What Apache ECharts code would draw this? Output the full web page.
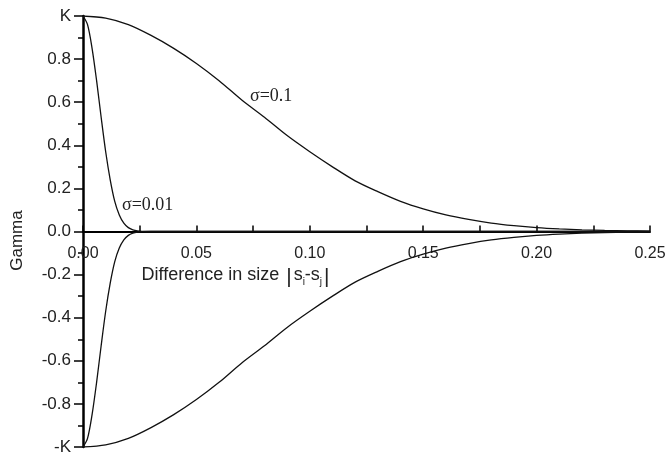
<!DOCTYPE html>
<html>
<head>
<meta charset="utf-8">
<script src="https://cdn.jsdelivr.net/npm/echarts@6/dist/echarts.min.js"></script>
<style>
  html, body { margin: 0; padding: 0; background: #fff; }
  #main { width: 667px; height: 453px; }
</style>
</head>
<body>
<div id="main"></div>
<script>
// x positions (difference in size) and curve values
var xWide = [0, 0.01, 0.02, 0.03, 0.04, 0.05, 0.06, 0.07, 0.08, 0.09, 0.10, 0.11, 0.12, 0.13,
  0.14, 0.15, 0.16, 0.17, 0.18, 0.19, 0.20, 0.21, 0.22, 0.23, 0.24, 0.25];
var gammaWide = [1, 0.99, 0.96, 0.91, 0.85, 0.78, 0.70, 0.61, 0.53, 0.445, 0.37, 0.30, 0.235,
  0.185, 0.14, 0.105, 0.077, 0.056, 0.039, 0.027, 0.018, 0.012, 0.008, 0.005, 0.003, 0.002];

var xNarrow = [0, 0.002, 0.004, 0.006, 0.008, 0.010, 0.012, 0.014, 0.016, 0.018, 0.020,
  0.022, 0.024, 0.026, 0.030, 0.25];
var gammaNarrow = [1, 0.96, 0.85, 0.70, 0.53, 0.37, 0.24, 0.14, 0.077, 0.039, 0.018,
  0.008, 0.003, 0.001, 0, 0];

var yTickNames = { '1': 'K', '-1': '-K' };

function pairs(xs, ys, sign) {
  return xs.map(function (x, i) { return [x, sign * ys[i]]; });
}

var chart = echarts.init(document.getElementById('main'));

function curve(data) {
  return {
    type: 'line',
    data: data,
    smooth: 0.3,
    symbol: 'none',
    silent: true,
    lineStyle: { color: '#111', width: 1.3 }
  };
}

var gridTop = 16, gridBottom = 6;
// x axis sits on y = 0, i.e. halfway up the grid (y runs -1..1)
var xShift = -(453 - gridTop - gridBottom) / 2;

var option = {
  backgroundColor: '#fff',
  animation: false,
  grid: { left: 83, right: 17, top: gridTop, bottom: gridBottom, outerBoundsMode: 'none', containLabel: false },
  xAxis: {
    type: 'value',
    min: 0,
    max: 0.25,
    interval: 0.05,
    offset: xShift,
    name: 'Difference in size {bar||}{s|s}{sub|i}{s|-s}{sub|j}{bar||}',
    nameLocation: 'middle',
    nameGap: 29,
    nameTextStyle: {
      color: '#222',
      fontSize: 18,
      fontFamily: 'Liberation Sans',
      padding: [0, 260, 0, 0],
      rich: {
        s: { fontSize: 18, color: '#222', fontFamily: 'Liberation Sans' },
        sub: { fontSize: 10, verticalAlign: 'bottom', padding: [10, 0, 0, 0], color: '#222' },
        bar: { fontSize: 21, color: '#222', fontFamily: 'Liberation Sans', padding: [3, 2, 0, 2] }
      }
    },
    axisLine: { onZero: false, lineStyle: { color: '#000', width: 2 } },
    axisTick: { inside: true, length: 6, lineStyle: { color: '#000', width: 1.5 } },
    minorTick: { show: true, splitNumber: 2, length: 6, lineStyle: { color: '#000', width: 1.5 } },
    axisLabel: {
      color: '#222',
      fontSize: 16,
      fontFamily: 'Liberation Sans',
      margin: 14,
      formatter: function (v) { return v.toFixed(2); }
    },
    splitLine: { show: false }
  },
  yAxis: {
    type: 'value',
    min: -1,
    max: 1,
    interval: 0.2,
    name: 'Gamma',
    nameLocation: 'middle',
    nameGap: 57,
    nameTextStyle: { color: '#222', fontSize: 17, fontFamily: 'Liberation Sans', padding: [0, 18, 0, 0] },
    axisLine: { lineStyle: { color: '#000', width: 2.5 } },
    axisTick: { length: 9, lineStyle: { color: '#000', width: 1.5 } },
    minorTick: { show: true, splitNumber: 2, length: 5, lineStyle: { color: '#000', width: 1.5 } },
    axisLabel: {
      color: '#222',
      fontSize: 17,
      fontFamily: 'Liberation Sans',
      margin: 12,
      formatter: function (v) {
        var key = String(Math.round(v * 10) / 10);
        return yTickNames[key] || v.toFixed(1);
      }
    },
    splitLine: { show: false }
  },
  graphic: [
    { type: 'text', left: 250, top: 87,
      style: { text: 'σ=0.1', fontSize: 18, fontFamily: 'Liberation Serif', fill: '#222' } },
    { type: 'text', left: 122, top: 196,
      style: { text: 'σ=0.01', fontSize: 18, fontFamily: 'Liberation Serif', fill: '#222' } }
  ],
  series: [
    curve(pairs(xWide, gammaWide, 1)),
    curve(pairs(xWide, gammaWide, -1)),
    curve(pairs(xNarrow, gammaNarrow, 1)),
    curve(pairs(xNarrow, gammaNarrow, -1))
  ]
};

chart.setOption(option);
</script>
</body>
</html>
